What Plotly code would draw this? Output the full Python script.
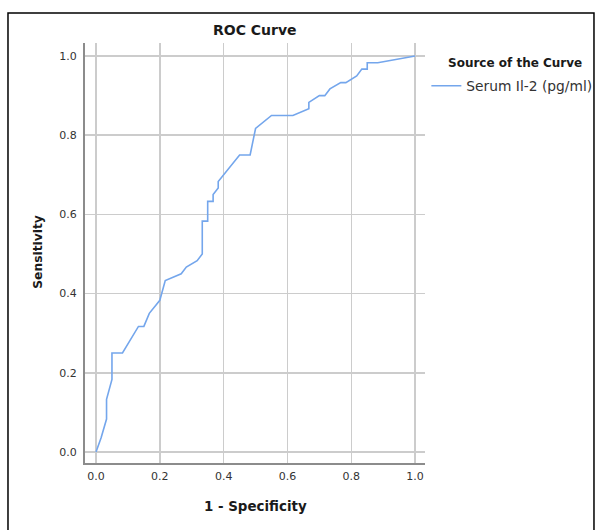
import plotly.graph_objects as go

# ROC curve points (1 - Specificity, Sensitivity)
fpr = [0.0, 0.016, 0.033, 0.033, 0.05, 0.05, 0.083, 0.133, 0.15, 0.167, 0.2, 0.211,
       0.217, 0.267, 0.283, 0.317, 0.333, 0.333, 0.35, 0.35, 0.367, 0.367, 0.383, 0.383,
       0.45, 0.483, 0.5, 0.55, 0.617, 0.667, 0.667, 0.7, 0.717, 0.733, 0.767, 0.783,
       0.817, 0.833, 0.85, 0.85, 0.883, 1.0]
tpr = [0.0, 0.036, 0.083, 0.133, 0.183, 0.25, 0.25, 0.317, 0.317, 0.35, 0.383, 0.414,
       0.433, 0.45, 0.467, 0.483, 0.5, 0.583, 0.583, 0.633, 0.633, 0.65, 0.667, 0.683,
       0.75, 0.75, 0.817, 0.85, 0.85, 0.867, 0.883, 0.9, 0.9, 0.917, 0.933, 0.933,
       0.95, 0.967, 0.967, 0.983, 0.983, 1.0]

series_name = "Serum Il-2 (pg/ml)"
tick_vals = [0.0, 0.2, 0.4, 0.6, 0.8, 1.0]
tick_text = ["0.0", "0.2", "0.4", "0.6", "0.8", "1.0"]

FONT = "DejaVu Sans, Verdana, sans-serif"

fig = go.Figure()
fig.add_trace(go.Scatter(x=fpr, y=tpr, mode="lines", name=series_name,
                         line=dict(color="#74a6ec", width=1.6)))

axis_common = dict(
    tickvals=tick_vals, ticktext=tick_text,
    showgrid=True, gridcolor="#cccccc", gridwidth=1.5,
    zeroline=False, showline=True, linecolor="#8c8c8c", linewidth=2,
    ticks="", tickfont=dict(family=FONT, size=11, color="#333333"),
)

fig.update_layout(
    width=598, height=530,
    margin=dict(l=85, r=173, t=43, b=67.3, pad=0, autoexpand=False),
    paper_bgcolor="white", plot_bgcolor="white",
    showlegend=True,
    legend=dict(x=1.004, xanchor="left", y=0.935, yanchor="top",
                font=dict(family=FONT, size=13.8, color="#333333"),
                bgcolor="rgba(0,0,0,0)", borderwidth=0),
    font=dict(family=FONT),
)
fig.update_xaxes(range=[-0.0345, 1.031], ticklabelstandoff=2, automargin=False, **axis_common)
fig.update_yaxes(range=[-0.028, 1.033], ticklabelstandoff=4, automargin=False, **axis_common)

# Titles as annotations (paper coordinates relative to plot area)
fig.add_annotation(text="<b>ROC Curve</b>", xref="paper", yref="paper", x=0.5, y=1.0303,
                   showarrow=False, xanchor="center", yanchor="middle",
                   font=dict(family=FONT, size=14, color="#1a1a1a"))
fig.add_annotation(text="<b>1 - Specificity</b>", xref="paper", yref="paper", x=0.5, y=-0.104,
                   showarrow=False, xanchor="center", yanchor="middle",
                   font=dict(family=FONT, size=13.4, color="#1a1a1a"))
fig.add_annotation(text="<b>Sensitivity</b>", xref="paper", yref="paper", x=-0.138, y=0.503,
                   showarrow=False, xanchor="center", yanchor="middle", textangle=-90,
                   font=dict(family=FONT, size=12.3, color="#1a1a1a"))
fig.add_annotation(text="<b>Source of the Curve</b>", xref="paper", yref="paper", x=1.062, y=0.953,
                   showarrow=False, xanchor="left", yanchor="middle",
                   font=dict(family=FONT, size=12, color="#1a1a1a"))

# Outer frame (bottom edge lies below the visible window)
fig.add_shape(type="rect", xref="paper", yref="paper",
              x0=-0.2265, x1=1.497, y0=-0.2, y1=1.0715,
              line=dict(color="black", width=1.5), fillcolor="rgba(0,0,0,0)")

fig.write_html(
    "out.html",
    config={"displayModeBar": False, "staticPlot": True},
    post_script=(
        "document.body.style.margin='0';"
        "document.body.style.overflow='hidden';"
        "document.documentElement.style.overflow='hidden';"
    ),
)
